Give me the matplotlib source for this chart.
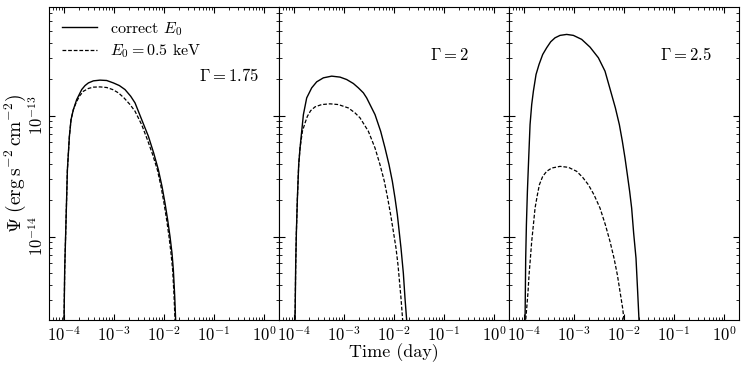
"""Light curves Psi(t) for three photon indices, correct E0 vs E0 = 0.5 keV."""

import numpy as np
import matplotlib

matplotlib.use("Agg")
import matplotlib.pyplot as plt
from matplotlib.ticker import FixedLocator, LogLocator, NullFormatter

plt.rcParams["font.family"] = "serif"
plt.rcParams["font.serif"] = ["cmr10", "DejaVu Serif"]
plt.rcParams["mathtext.fontset"] = "cm"
plt.rcParams["axes.unicode_minus"] = False
plt.rcParams["axes.formatter.use_mathtext"] = True

# values, stored as log10(time / day) and log10(Psi)
LOGT_175_SOLID = [-4.000, -4.000, -3.987, -3.960, -3.933, -3.893, -3.860, -3.813, -3.747, -3.647,
                  -3.580, -3.513, -3.413, -3.280, -3.147, -3.013, -2.893, -2.780, -2.667, -2.580,
                  -2.447, -2.313, -2.207, -2.113, -2.040, -1.980, -1.927, -1.880, -1.840, -1.813,
                  -1.787, -1.767, -1.762]
LOGPSI_175_SOLID = [-16.0, -14.690, -14.276, -13.862, -13.448, -13.171, -13.033, -12.950, -12.868, -12.785,
                    -12.752, -12.730, -12.713, -12.707, -12.710, -12.730, -12.752, -12.785, -12.840, -12.895,
                    -13.033, -13.171, -13.309, -13.448, -13.586, -13.724, -13.862, -14.000, -14.138, -14.276,
                    -14.483, -14.690, -16.0]
LOGT_175_DASH = [-4.000, -4.000, -3.987, -3.960, -3.933, -3.893, -3.860, -3.813, -3.760, -3.693,
                 -3.613, -3.513, -3.413, -3.280, -3.147, -3.027, -2.913, -2.800, -2.680, -2.580,
                 -2.447, -2.333, -2.227, -2.133, -2.060, -2.000, -1.947, -1.900, -1.860, -1.827,
                 -1.800, -1.780, -1.776]
LOGPSI_175_DASH = [-16.0, -14.690, -14.276, -13.862, -13.448, -13.171, -13.033, -12.950, -12.895, -12.840,
                   -12.799, -12.776, -12.765, -12.763, -12.768, -12.785, -12.812, -12.854, -12.909, -12.964,
                   -13.075, -13.199, -13.323, -13.448, -13.586, -13.724, -13.862, -14.000, -14.138, -14.276,
                   -14.483, -14.690, -16.0]

LOGT_2_SOLID = [-3.980, -3.980, -3.967, -3.953, -3.933, -3.907, -3.880, -3.847, -3.813, -3.747,
                -3.647, -3.547, -3.413, -3.247, -3.080, -2.947, -2.813, -2.713, -2.613, -2.547,
                -2.380, -2.267, -2.180, -2.100, -2.033, -1.980, -1.933, -1.860, -1.813, -1.780,
                -1.747, -1.742]
LOGPSI_2_SOLID = [-16.0, -14.690, -14.235, -13.958, -13.682, -13.406, -13.268, -13.130, -12.992, -12.854,
                  -12.771, -12.721, -12.688, -12.674, -12.682, -12.702, -12.735, -12.771, -12.812, -12.854,
                  -12.992, -13.130, -13.268, -13.406, -13.544, -13.682, -13.820, -14.096, -14.304, -14.511,
                  -14.690, -16.0]
LOGT_2_DASH = [-3.980, -3.980, -3.967, -3.953, -3.933, -3.907, -3.880, -3.833, -3.780, -3.733,
               -3.667, -3.580, -3.447, -3.280, -3.113, -2.913, -2.780, -2.680, -2.513, -2.380,
               -2.280, -2.193, -2.127, -2.067, -2.013, -1.960, -1.920, -1.860, -1.827, -1.822]
LOGPSI_2_DASH = [-16.0, -14.690, -14.235, -13.958, -13.682, -13.406, -13.268, -13.130, -13.061, -13.006,
                 -12.959, -12.928, -12.909, -12.903, -12.909, -12.937, -12.978, -13.019, -13.130, -13.268,
                 -13.406, -13.544, -13.682, -13.820, -13.958, -14.096, -14.235, -14.511, -14.690, -16.0]

LOGT_25_SOLID = [-3.980, -3.980, -3.967, -3.953, -3.933, -3.907, -3.880, -3.847, -3.813, -3.760,
                 -3.700, -3.627, -3.547, -3.467, -3.380, -3.280, -3.147, -3.013, -2.847, -2.680,
                 -2.513, -2.380, -2.267, -2.173, -2.093, -2.033, -1.980, -1.933, -1.887, -1.847,
                 -1.807, -1.760, -1.727, -1.700, -1.695]
LOGPSI_25_SOLID = [-16.0, -14.690, -14.179, -13.903, -13.627, -13.351, -13.075, -12.909, -12.798, -12.660,
                   -12.577, -12.495, -12.439, -12.390, -12.357, -12.337, -12.329, -12.337, -12.370, -12.434,
                   -12.522, -12.633, -12.798, -12.936, -13.075, -13.213, -13.351, -13.489, -13.627, -13.765,
                   -13.972, -14.179, -14.455, -14.690, -16.0]
LOGT_25_DASH = [-3.967, -3.967, -3.947, -3.920, -3.900, -3.873, -3.847, -3.813, -3.780, -3.733,
                -3.693, -3.627, -3.547, -3.447, -3.280, -3.113, -2.947, -2.827, -2.713, -2.600,
                -2.480, -2.373, -2.280, -2.200, -2.133, -2.080, -2.027, -2.000, -1.995]
LOGPSI_25_DASH = [-16.0, -14.690, -14.593, -14.455, -14.317, -14.179, -14.041, -13.903, -13.765, -13.655,
                  -13.572, -13.503, -13.461, -13.434, -13.420, -13.428, -13.461, -13.511, -13.572, -13.655,
                  -13.765, -13.903, -14.041, -14.179, -14.317, -14.455, -14.593, -14.690, -16.0]

Y_MAJOR = [1e-14, 1e-13]
X_MAJOR = [1e-4, 1e-3, 1e-2, 1e-1, 1e0]

PANELS = [
    (r"$\Gamma = 1.75$", LOGT_175_SOLID, LOGPSI_175_SOLID, LOGT_175_DASH, LOGPSI_175_DASH, (0.913, 0.78)),
    (r"$\Gamma = 2$", LOGT_2_SOLID, LOGPSI_2_SOLID, LOGT_2_DASH, LOGPSI_2_DASH, (0.826, 0.847)),
    (r"$\Gamma = 2.5$", LOGT_25_SOLID, LOGPSI_25_SOLID, LOGT_25_DASH, LOGPSI_25_DASH, (0.883, 0.847)),
]

fig, axes = plt.subplots(1, 3, figsize=(7.47, 3.69), dpi=100, sharey=True)
fig.subplots_adjust(left=0.0656, right=0.9893, bottom=0.1328, top=0.981, wspace=0)

for index, (title, t_solid, p_solid, t_dash, p_dash, text_pos) in enumerate(PANELS):
    axis = axes[index]
    axis.plot(10 ** np.asarray(t_solid), 10 ** np.asarray(p_solid), color="k", lw=1.0, ls="-",
              label=r"correct $E_0$")
    axis.plot(10 ** np.asarray(t_dash), 10 ** np.asarray(p_dash), color="k", lw=0.9, ls=(0, (3.0, 1.5)),
              label=r"$E_0 = 0.5$ keV")
    axis.set_xscale("log")
    axis.set_yscale("log")
    axis.set_xlim(5e-5, 2.0)
    axis.set_ylim(2.04e-15, 7.9e-13)
    axis.xaxis.set_major_locator(FixedLocator(X_MAJOR))
    axis.xaxis.set_minor_locator(LogLocator(base=10, subs=np.arange(2, 10), numticks=20))
    axis.yaxis.set_major_locator(FixedLocator(Y_MAJOR))
    axis.yaxis.set_minor_locator(LogLocator(base=10, subs=np.arange(2, 10), numticks=20))
    axis.xaxis.set_minor_formatter(NullFormatter())
    axis.yaxis.set_minor_formatter(NullFormatter())
    axis.tick_params(which="both", direction="in", top=True, right=True, labelsize=12)
    axis.tick_params(which="major", length=4, width=0.8)
    axis.tick_params(which="minor", length=2, width=0.6)
    axis.tick_params(axis="y", pad=2)
    axis.text(text_pos[0], text_pos[1], title, transform=axis.transAxes, ha="right", va="center", fontsize=12)
    if index == 0:
        axis.tick_params(axis="y", labelrotation=90)
        for label in axis.get_yticklabels():
            label.set_va("center")
        axis.legend(loc="upper left", frameon=False, fontsize=11.5, handlelength=2.2,
                    borderaxespad=0.4, labelspacing=0.3)
    else:
        axis.tick_params(axis="y", labelleft=False)

axes[0].set_ylabel(r"$\Psi\ (\mathrm{erg\,s^{-2}\,cm^{-2}})$", fontsize=14)
axes[0].yaxis.set_label_coords(-0.093, 0.5)
axes[1].set_xlabel("Time (day)", fontsize=13)
axes[1].xaxis.set_label_coords(0.5, -0.073)

fig.savefig("out.png", dpi=100)
